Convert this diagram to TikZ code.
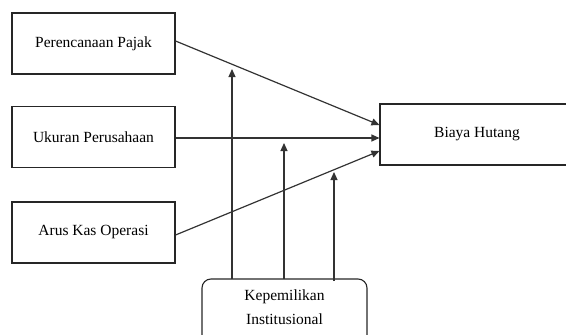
\documentclass[tikz,border=0pt]{standalone}
\usepackage{fontspec}
\setmainfont{Liberation Serif}
\usetikzlibrary{arrows.meta}
\begin{document}
\begin{tikzpicture}[x=1pt,y=-1pt,
  box/.style={draw=black!85,line width=1.1pt,minimum width=163pt,minimum height=61pt,inner sep=0pt,font=\fontsize{15.5}{18}\selectfont},
  rbox/.style={draw=black!85,line width=1.1pt,rounded corners=9pt,inner sep=0pt,font=\fontsize{15.5}{18}\selectfont},
  arr/.style={draw=black!80,line width=1.2pt,-{Triangle[length=8pt,width=7pt]}}]
\useasboundingbox (0,0) rectangle (566,335);
\clip (0,0) rectangle (566,335);
\node[box] (pp) at (93.5,43.5) {Perencanaan Pajak};
\node[box] (up) at (93.5,137) {Ukuran Perusahaan};
\node[box] (ak) at (93.5,232.5) {Arus Kas Operasi};
\node[box,minimum width=194pt] (bh) at (477,134.5) {Biaya Hutang};
\draw[rbox] (202,279) rectangle (367,345);
\node[font=\fontsize{15.5}{18}\selectfont,align=center] (ki) at (284.5,307.5) {Kepemilikan\\[6pt]Institusional};
\coordinate (kt1) at (232,279);
\coordinate (kt2) at (284,279);
\coordinate (kt3) at (334,281);
\coordinate (t1) at (232,69);
\coordinate (t2) at (284,143);
\coordinate (t3) at (334,172);
\draw[arr] (pp.east |- 0,41) -- (bh.west |- 0,125);
\draw[arr] (up.east |- 0,138) -- (bh.west |- 0,138);
\draw[arr] (ak.east |- 0,235) -- (bh.west |- 0,151);
\draw[arr] (kt1) -- (t1);
\draw[arr] (kt2) -- (t2);
\draw[arr] (kt3) -- (t3);
\end{tikzpicture}
\end{document}
